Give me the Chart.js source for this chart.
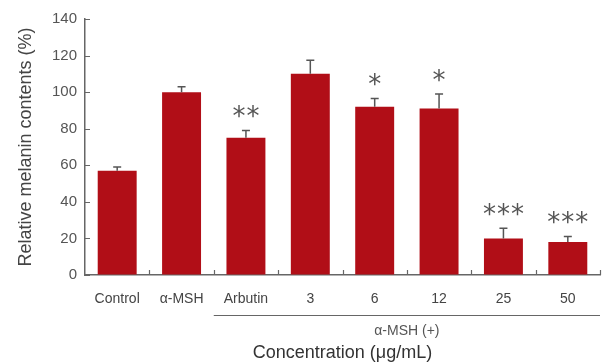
<!DOCTYPE html>
<html><head><meta charset="utf-8">
<script src="https://cdn.jsdelivr.net/npm/chart.js@4/dist/chart.umd.min.js"></script>
<style>html,body{margin:0;padding:0;background:#fff}#wrap{width:607px;height:363px}</style>
</head><body><div id="wrap"><canvas id="c" width="607" height="363"></canvas></div>
<script>
const categories = ["Control", "α-MSH", "Arbutin", "3", "6", "12", "25", "50"];
const melanin = [57, 100, 75, 110, 92, 91, 20, 18];
const errors = [2, 3, 4, 7.5, 4.5, 8, 5.5, 3];
const significance = ["", "", "**", "", "*", "*", "***", "***"];
const yTicks = [0, 20, 40, 60, 80, 100, 120, 140];
const groupLabel = "α-MSH (+)";
const groupStart = 2;

const AXIS = "#666";
const TXT = "#555";

const extras = {
  id: "extras",
  afterDatasetsDraw(chart) {
    const ctx = chart.ctx, x = chart.scales.x, y = chart.scales.y;
    const meta = chart.getDatasetMeta(0);
    ctx.save();
    meta.data.forEach((bar, i) => {
      const top = y.getPixelForValue(melanin[i] + errors[i]);
      ctx.strokeStyle = "#555"; ctx.lineWidth = 1.5;
      ctx.beginPath();
      ctx.moveTo(bar.x, bar.y); ctx.lineTo(bar.x, top);
      ctx.moveTo(bar.x - 4, top); ctx.lineTo(bar.x + 4, top);
      ctx.stroke();
      const s = significance[i];
      if (s) {
        ctx.fillStyle = "#555";
        ctx.font = "26px 'DejaVu Sans'";
        ctx.textAlign = "center"; ctx.textBaseline = "middle";
        const n = s.length, gap = 14;
        for (let k = 0; k < n; k++) {
          ctx.fillText("*", bar.x + (k - (n - 1) / 2) * gap, top - 12);
        }
      }
    });
    ctx.restore();
  },
  afterDraw(chart) {
    const ctx = chart.ctx, x = chart.scales.x, y = chart.scales.y, a = chart.chartArea;
    ctx.save();
    ctx.strokeStyle = AXIS; ctx.lineWidth = 1.2;
    ctx.beginPath();
    yTicks.forEach(v => { const py = Math.round(y.getPixelForValue(v)) + 0.5; ctx.moveTo(a.left, py); ctx.lineTo(a.left + 5, py); });
    const step = (a.right - a.left) / categories.length;
    for (let i = 1; i <= categories.length; i++) {
      const px = Math.round(a.left + i * step) + 0.5;
      ctx.moveTo(px, a.bottom); ctx.lineTo(px, a.bottom - 5);
    }
    ctx.stroke();
    const bx0 = a.left + groupStart * step;
    const by = a.bottom + 40;
    ctx.lineWidth = 1;
    ctx.beginPath(); ctx.moveTo(bx0, by + 0.5); ctx.lineTo(a.right, by + 0.5); ctx.stroke();
    ctx.fillStyle = TXT; ctx.font = "14px 'Liberation Sans', Arial";
    ctx.textAlign = "center"; ctx.textBaseline = "middle";
    ctx.fillText(groupLabel, (bx0 + a.right) / 2, by + 16);
    ctx.restore();
  }
};

new Chart(document.getElementById("c"), {
  type: "bar",
  data: { labels: categories, datasets: [{ data: melanin, backgroundColor: "#B10E17", borderWidth: 0, barPercentage: 0.605, categoryPercentage: 1 }] },
  options: {
    responsive: false, animation: false, devicePixelRatio: 1,
    layout: { padding: { top: 19, right: 7, left: 0, bottom: 0 } },
    plugins: { legend: { display: false }, tooltip: { enabled: false } },
    scales: {
      x: {
        grid: { display: true, drawOnChartArea: false, drawTicks: false },
        border: { display: true, color: AXIS, width: 1.5 },
        ticks: { color: "#444", font: { size: 14, family: "'Liberation Sans', Arial" }, padding: 16, maxRotation: 0 },
        title: { display: true, text: "Concentration (μg/mL)", color: "#333", font: { size: 18, family: "'Liberation Sans', Arial", lineHeight: 1.1 }, padding: 0 },
        afterFit: s => { s.height = 88; }
      },
      y: {
        min: 0, max: 140,
        grid: { display: true, drawOnChartArea: false, drawTicks: false },
        border: { display: true, color: AXIS, width: 1.5 },
        ticks: { stepSize: 20, color: TXT, font: { size: 15, family: "'Liberation Sans', Arial" }, padding: 8 },
        title: { display: true, text: "Relative melanin contents (%)", color: "#444", font: { size: 18, family: "'Liberation Sans', Arial" }, padding: { top: 15, bottom: 0 } },
        afterFit: s => { s.width = 85; }
      }
    }
  },
  plugins: [extras]
});
</script></body></html>
